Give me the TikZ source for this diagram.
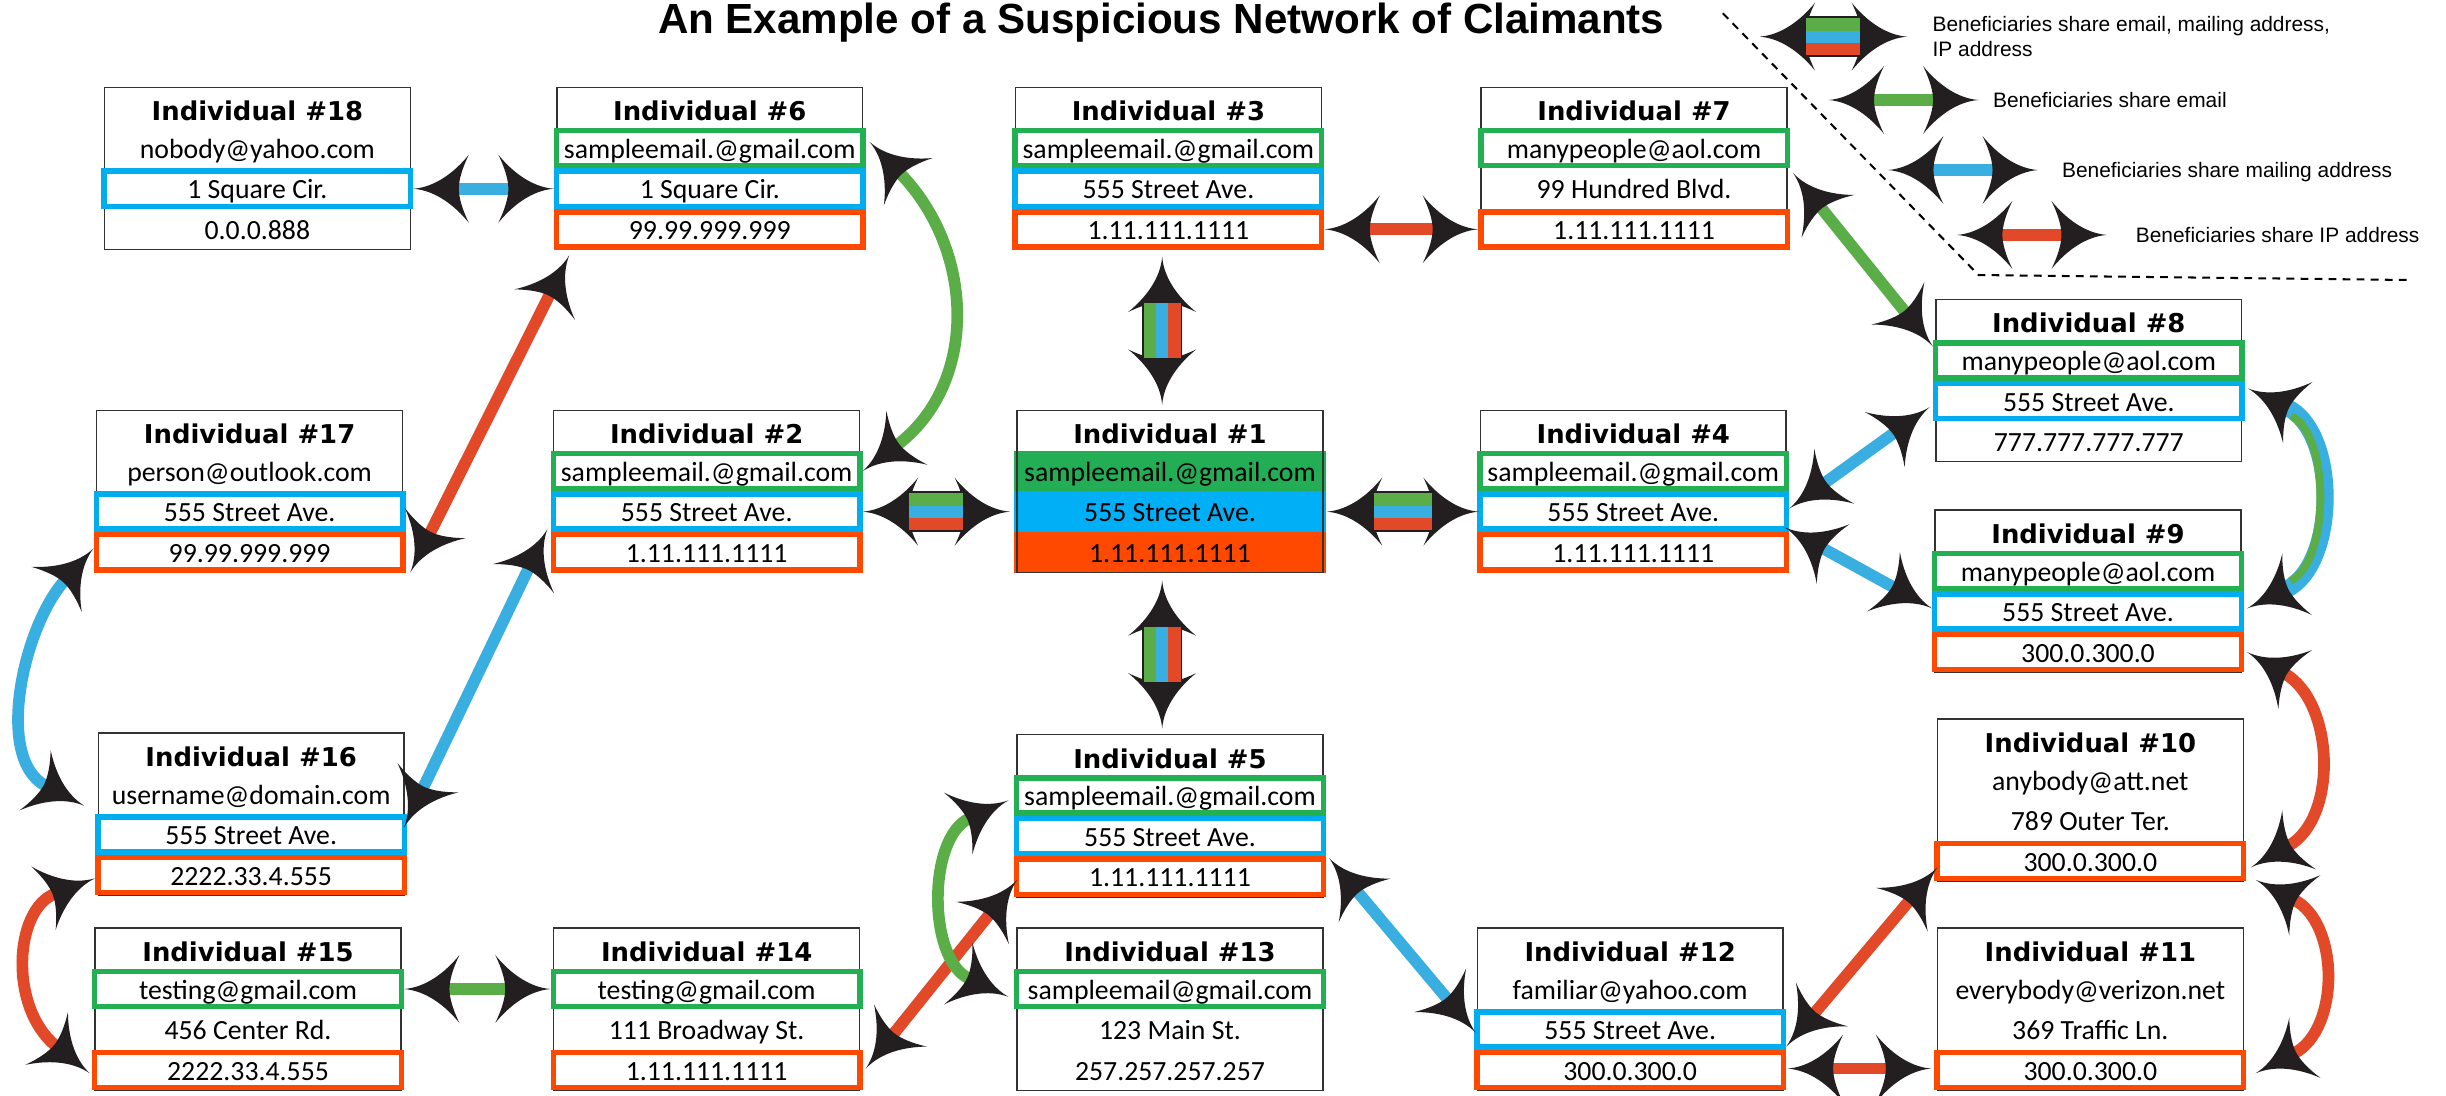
\documentclass[tikz,border=0pt]{standalone}
\usepackage{fontspec}
\usetikzlibrary{arrows.meta,calc}
\newfontfamily\rowfam{Carlito}
\newfontfamily\ttlfam{DejaVu Sans}
\newfontfamily\arialfam{Liberation Sans}
\definecolor{boxgreen}{HTML}{22B052}
\definecolor{boxblue}{HTML}{00AEEF}
\definecolor{boxred}{HTML}{FF4800}
\definecolor{fillgreen}{HTML}{23AE55}
\definecolor{fillblue}{HTML}{00AFF5}
\definecolor{fillred}{HTML}{FF4800}
\definecolor{lgreen}{HTML}{5BAE47}
\definecolor{lblue}{HTML}{39AEE0}
\definecolor{lred}{HTML}{E24929}
\definecolor{arrowblack}{HTML}{231F20}

\pgfdeclarearrow{
  name = Dlt,
  parameters = {\the\pgfarrowlength,\the\pgfarrowwidth},
  setup code = {
    \pgfarrowssettipend{0pt}
    \pgfarrowssetlineend{-.78\pgfarrowlength}
    \pgfarrowssetbackend{-\pgfarrowlength}
    \pgfarrowshullpoint{0pt}{0pt}
    \pgfarrowsupperhullpoint{-\pgfarrowlength}{.5\pgfarrowwidth}
    \pgfarrowssavethe\pgfarrowlength
    \pgfarrowssavethe\pgfarrowwidth
  },
  drawing code = {
    \pgfpathmoveto{\pgfpointorigin}
    \pgfpathcurveto
      {\pgfpoint{-.4\pgfarrowlength}{.025\pgfarrowwidth}}
      {\pgfpoint{-.75\pgfarrowlength}{.25\pgfarrowwidth}}
      {\pgfpoint{-\pgfarrowlength}{.5\pgfarrowwidth}}
    \pgfpathcurveto
      {\pgfpoint{-.88\pgfarrowlength}{.3\pgfarrowwidth}}
      {\pgfpoint{-.82\pgfarrowlength}{.125\pgfarrowwidth}}
      {\pgfpoint{-.82\pgfarrowlength}{0pt}}
    \pgfpathcurveto
      {\pgfpoint{-.82\pgfarrowlength}{-.125\pgfarrowwidth}}
      {\pgfpoint{-.88\pgfarrowlength}{-.3\pgfarrowwidth}}
      {\pgfpoint{-\pgfarrowlength}{-.5\pgfarrowwidth}}
    \pgfpathcurveto
      {\pgfpoint{-.75\pgfarrowlength}{-.25\pgfarrowwidth}}
      {\pgfpoint{-.4\pgfarrowlength}{-.025\pgfarrowwidth}}
      {\pgfpointorigin}
    \pgfpathclose
    \pgfusepathqfill
  },
  defaults = {length = 35.5pt, width = 43.5pt}
}

\newcommand\mkperson[4]{%
  \node[frame] (#1) at (#2,#3) {};
  \node[ttl] (#1t) at ($(#1.north)+(0,21.4)$) {Individual \##4};
}
\newcommand\mkrows[7]{%
  \node[#2] (#1e) at ($(#1.north)+(0,39)$) {#3};
  \node[#4] (#1a) at ($(#1.north)+(0,65)$) {#5};
  \node[#6] (#1i) at ($(#1.north)+(0,91)$) {#7};
}
\newcommand\trihor[2]{%
  \draw[tribase] (#1) -- (#2);
  \draw[stripe, lgreen, transform canvas={yshift=7.8pt}] (#1) -- (#2);
  \draw[stripe, lblue] (#1) -- (#2);
  \draw[stripe, lred, transform canvas={yshift=-7.8pt}] (#1) -- (#2);
}
\newcommand\trivert[2]{%
  \draw[tribase] (#1) -- (#2);
  \draw[stripe, lgreen, transform canvas={xshift=-7.8pt}] (#1) -- (#2);
  \draw[stripe, lblue] (#1) -- (#2);
  \draw[stripe, lred, transform canvas={xshift=7.8pt}] (#1) -- (#2);
}

\begin{document}
\begin{tikzpicture}[x=1pt,y=-1pt,
  frame/.style={draw=black!80, line width=0.9pt, fill=white, minimum width=196pt,
    minimum height=104pt, inner sep=0pt, outer sep=0pt},
  ttl/.style={font=\ttlfam\bfseries\fontsize{16.6}{18}\selectfont, anchor=base, inner sep=0pt},
  txt/.style={font=\rowfam\fontsize{17.8}{20}\selectfont, inner sep=0pt, text height=17pt, text depth=4pt},
  rowP/.style={txt, minimum width=200pt, minimum height=26pt, outer sep=0pt},
  rowC/.style={txt, draw=#1, line width=3.5pt, fill=white, minimum width=196.5pt, minimum height=22.5pt},
  rowG/.style={rowC=boxgreen},
  rowB/.style={rowC=boxblue},
  rowR/.style={rowC=boxred},
  fillG/.style={rowP, fill=fillgreen},
  fillB/.style={rowP, fill=fillblue},
  fillR/.style={rowP, fill=fillred},
  conn/.style={line width=7.5pt, arrows={Dlt[color=arrowblack]-Dlt[color=arrowblack]}},
  tribase/.style={line width=26pt, arrowblack, arrows={Dlt[color=arrowblack]-Dlt[color=arrowblack]}},
  stripe/.style={line width=7.9pt, shorten <=30pt, shorten >=30pt},
  leg/.style={font=\arialfam\fontsize{13.4}{16}\selectfont, inner sep=0pt},
  dashline/.style={line width=1.3pt, dash pattern=on 5pt off 4pt}
]
\fill[white] (0,0) rectangle (1568,702);
\useasboundingbox (0,0) rectangle (1568,702);

\node[font=\arialfam\bfseries\fontsize{27}{30}\selectfont, anchor=base, inner sep=0pt] (title)
  at (744.4,21.4) {An Example of a Suspicious Network of Claimants};

% ---------- individuals ----------
\mkperson{n18}{165}{108}{18}
\mkrows{n18}{rowP}{nobody@yahoo.com}{rowB}{1 Square Cir.}{rowP}{0.0.0.888}
\mkperson{n6}{455}{108}{6}
\mkrows{n6}{rowG}{sampleemail.@gmail.com}{rowB}{1 Square Cir.}{rowR}{99.99.999.999}
\mkperson{n3}{749}{108}{3}
\mkrows{n3}{rowG}{sampleemail.@gmail.com}{rowB}{555 Street Ave.}{rowR}{1.11.111.1111}
\mkperson{n7}{1047.5}{108}{7}
\mkrows{n7}{rowG}{manypeople@aol.com}{rowP}{99 Hundred Blvd.}{rowR}{1.11.111.1111}
\mkperson{n8}{1339}{244}{8}
\mkrows{n8}{rowG}{manypeople@aol.com}{rowB}{555 Street Ave.}{rowP}{777.777.777.777}
\mkperson{n17}{160}{315}{17}
\mkrows{n17}{rowP}{person@outlook.com}{rowB}{555 Street Ave.}{rowR}{99.99.999.999}
\mkperson{n2}{453}{315}{2}
\mkrows{n2}{rowG}{sampleemail.@gmail.com}{rowB}{555 Street Ave.}{rowR}{1.11.111.1111}
\mkperson{n1}{750}{315}{1}
\mkrows{n1}{fillG}{sampleemail.@gmail.com}{fillB}{555 Street Ave.}{fillR}{1.11.111.1111}
\node[frame, fill=none] (n1top) at (n1.center) {};
\mkperson{n4}{1047}{315}{4}
\mkrows{n4}{rowG}{sampleemail.@gmail.com}{rowB}{555 Street Ave.}{rowR}{1.11.111.1111}
\mkperson{n9}{1338.5}{379}{9}
\mkrows{n9}{rowG}{manypeople@aol.com}{rowB}{555 Street Ave.}{rowR}{300.0.300.0}
\mkperson{n16}{161}{522}{16}
\mkrows{n16}{rowP}{username@domain.com}{rowB}{555 Street Ave.}{rowR}{2222.33.4.555}
\mkperson{n5}{750}{523}{5}
\mkrows{n5}{rowG}{sampleemail.@gmail.com}{rowB}{555 Street Ave.}{rowR}{1.11.111.1111}
\mkperson{n10}{1340}{513}{10}
\mkrows{n10}{rowP}{anybody@att.net}{rowP}{789 Outer Ter.}{rowR}{300.0.300.0}
\mkperson{n15}{159}{647}{15}
\mkrows{n15}{rowG}{testing@gmail.com}{rowP}{456 Center Rd.}{rowR}{2222.33.4.555}
\mkperson{n14}{453}{647}{14}
\mkrows{n14}{rowG}{testing@gmail.com}{rowP}{111 Broadway St.}{rowR}{1.11.111.1111}
\mkperson{n13}{750}{647}{13}
\mkrows{n13}{rowG}{sampleemail@gmail.com}{rowP}{123 Main St.}{rowP}{257.257.257.257}
\mkperson{n12}{1045}{647}{12}
\mkrows{n12}{rowP}{familiar@yahoo.com}{rowB}{555 Street Ave.}{rowR}{300.0.300.0}
\mkperson{n11}{1340}{647}{11}
\mkrows{n11}{rowP}{everybody@verizon.net}{rowP}{369 Traffic Ln.}{rowR}{300.0.300.0}

% ---------- tricolor connectors ----------
\coordinate (t31a) at ($(n3i.south)+(-4,4.5)$);
\coordinate (t31b) at ($(n1.north)+(-5,-3.5)$);
\trivert{t31a}{t31b}
\coordinate (t21a) at (n2a.east);
\coordinate (t21b) at ($(n1a.west)+(-2.5,0)$);
\trihor{t21a}{t21b}
\coordinate (t14a) at ($(n1a.east)+(0.5,0)$);
\coordinate (t14b) at ($(n4a.west)+(1,0)$);
\trihor{t14a}{t14b}
\coordinate (t15a) at ($(n1.south)+(-5,5)$);
\coordinate (t15b) at ($(n5.north)+(-5,-4)$);
\trivert{t15a}{t15b}

% ---------- straight connectors ----------
\draw[conn, lblue] (n18a.east) -- (n6a.west);
\draw[conn, lred] (n3i.east) -- (n7i.west);
\draw[conn, lgreen] ($(n7e.south east)+(2,3)$) -- ($(n8e.north west)+(0,4)$);
\draw[conn, lblue] ($(n4a.east)+(0,-2)$) -- ($(n8a.west)+(-2,4)$);
\draw[conn, lblue] ($(n4a.south east)+(-3,-3)$) -- ($(n9a.west)+(0,-2)$);
\draw[conn, lred] ($(n12i.east)+(1,-1)$) -- ($(n11i.west)+(-2,-1)$);
\draw[conn, lred] ($(n12a.south east)+(0,-2)$) -- ($(n10i.west)+(2,4)$);
\draw[conn, lblue] ($(n5a.south east)+(2,1)$) -- ($(n12a.west)+(1,2)$);
\draw[conn, lred] ($(n14i.east)+(2,-1)$) -- ($(n5i.west)+(2,2)$);
\draw[conn, lgreen] (n15e.east) -- (n14e.west);
\draw[conn, lred] ($(n17i.south east)+(3,0)$) -- ($(n6i.south west)+(10,3.5)$);
\draw[conn, lblue] ($(n16a.east)+(-2,-4.5)$) -- ($(n2a.south west)+(-2,-2)$);

% ---------- curved connectors ----------
\draw[conn, lgreen] ($(n6e.east)+(2.5,-4)$) .. controls +(68,70) and +(74,-56) .. (n2e.east);
\draw[conn, lblue] ($(n17i.west)+(0,-2.5)$) .. controls +(-45,50) and +(-58,-30) .. ($(n16a.north west)+(-7,-5.5)$);
\draw[conn, lred] ($(n16i.west)+(0,2)$) .. controls +(-52,20) and +(-52,-42) .. ($(n15i.west)+(-1.5,2)$);
\draw[conn, lgreen] ($(n5e.west)+(-3.5,3)$) .. controls +(-52,24) and +(-52,-24) .. ($(n13e.west)+(-3.5,5)$);
\draw[conn, lred] ($(n9i.east)+(2,0)$) .. controls +(56,32) and +(56,-32) .. ($(n10i.east)+(3,4)$);
\draw[conn, lred] ($(n10i.south east)+(6,-1)$) .. controls +(54,28) and +(54,-28) .. ($(n11i.east)+(6,2)$);
\coordinate (d89a) at ($(n8a.east)+(2,-8)$);
\coordinate (d89b) at ($(n9a.east)+(2,-2)$);
\draw[conn, lblue, line width=11pt] (d89a) .. controls +(58,28) and +(58,-28) .. (d89b);
\draw[lgreen, line width=5pt, shorten <=31pt, shorten >=31pt]
  ($(d89a)+(0,4)$) .. controls +(53,26) and +(53,-26) .. ($(d89b)+(0,-4)$);

% ---------- legend ----------
\draw[dashline] (1104.4,8.5) -- (1268.3,176.3) -- (1545,179.5);
\coordinate (lg1a) at (1128,23.5);
\coordinate (lg1b) at (1222.5,23.5);
\trihor{lg1a}{lg1b}
\coordinate (lg2a) at (1172.2,64.1);
\coordinate (lg2b) at (1268.3,64.1);
\draw[conn, lgreen] (lg2a) -- (lg2b);
\coordinate (lg3a) at (1210.3,109);
\coordinate (lg3b) at (1306.4,109);
\draw[conn, lblue] (lg3a) -- (lg3b);
\coordinate (lg4a) at (1254.5,150.6);
\coordinate (lg4b) at (1350.6,150.6);
\draw[conn, lred] (lg4a) -- (lg4b);
\node[leg, anchor=north west, align=left] (lt1) at (1238.7,10.2)
  {Beneficiaries share email, mailing address,\\IP address};
\node[leg, anchor=base west] (lt2) at (1277.5,68.9) {Beneficiaries share email};
\node[leg, anchor=base west] (lt3) at (1321.7,113.8) {Beneficiaries share mailing address};
\node[leg, anchor=base west] (lt4) at (1369,155.4) {Beneficiaries share IP address};
\end{tikzpicture}
\end{document}
